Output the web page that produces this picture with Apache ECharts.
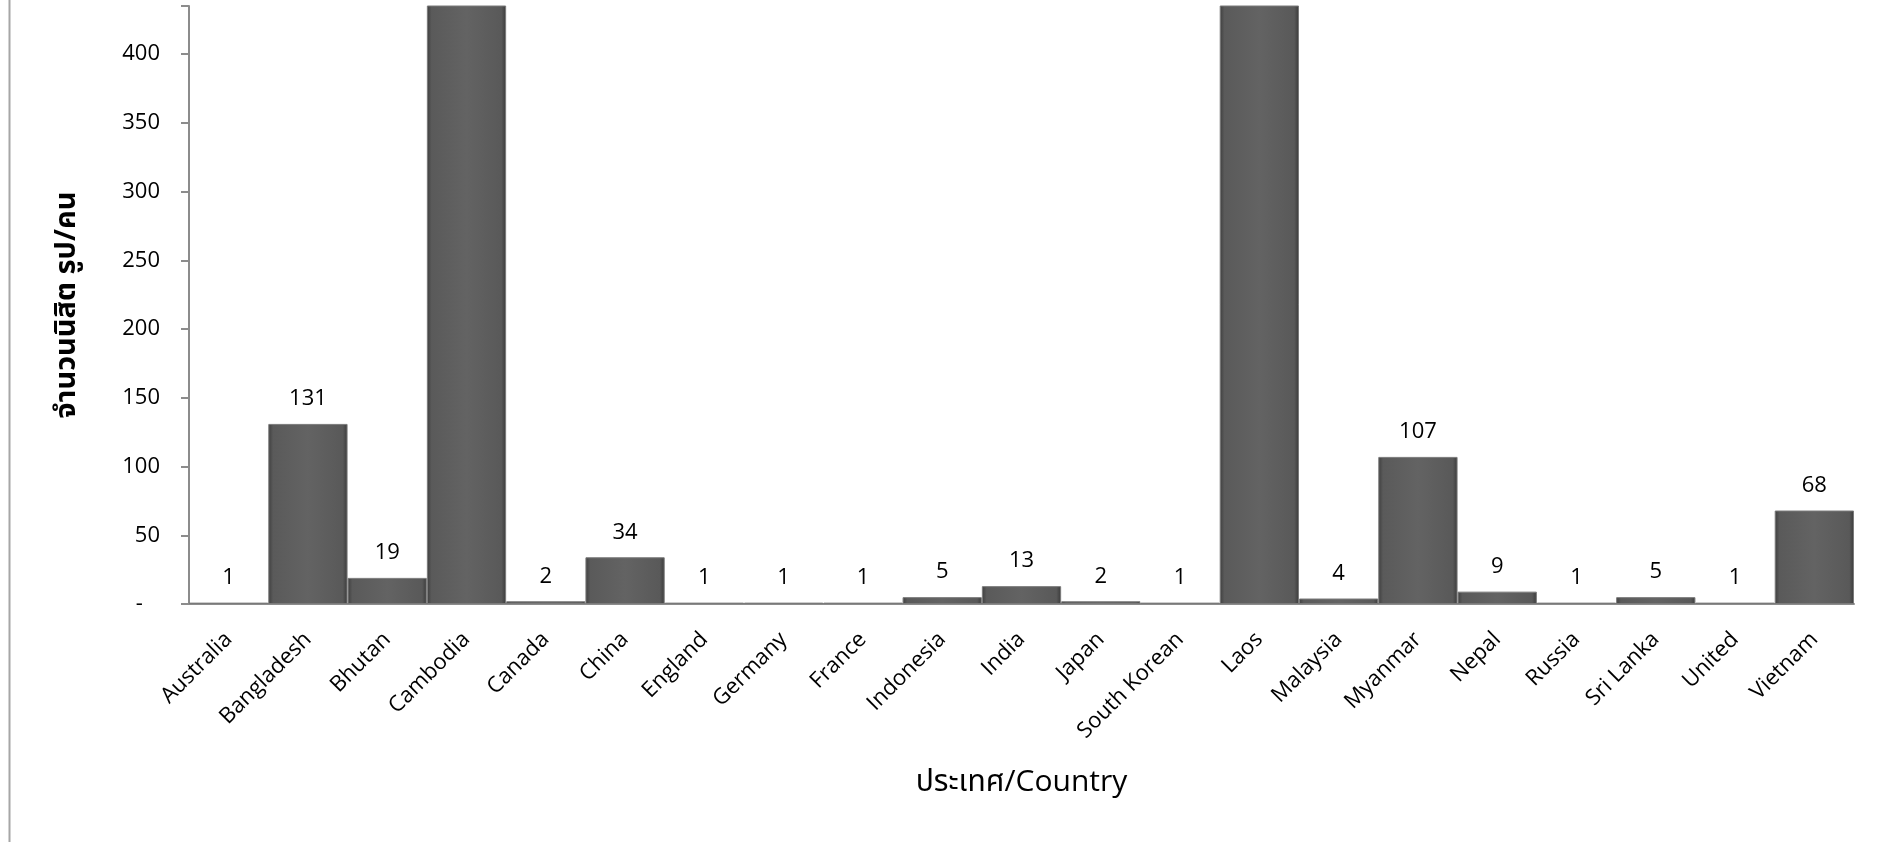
<!DOCTYPE html>
<html>
<head>
<meta charset="utf-8">
<script src="https://cdn.jsdelivr.net/npm/echarts@6/dist/echarts.min.js"></script>
<style>
html,body{margin:0;padding:0;background:#fff;}
#chart{width:1884px;height:844px;}
</style>
</head>
<body>
<div id="chart"></div>
<script>
// Categories (countries)
const categories = ["Australia","Bangladesh","Bhutan","Cambodia","Canada","China","England","Germany","France","Indonesia","India","Japan","South Korean","Laos","Malaysia","Myanmar","Nepal","Russia","Sri Lanka","United","Vietnam"];
// Student counts; Cambodia and Laos run off the top of the chart (values estimated, not readable)
const counts = [1,131,19,520,2,34,1,1,1,5,13,2,1,520,4,107,9,1,5,1,68];
// Y axis settings
const yMax = 435;
const yTicks = [0,50,100,150,200,250,300,350,400];

const font = '"Open Sans","Noto Sans","Noto Sans Thai",sans-serif';
const chart = echarts.init(document.getElementById('chart'));

const barColor = {
  type: 'linear', x: 0, y: 0, x2: 1, y2: 0,
  colorStops: [
    {offset: 0, color: '#3e3e3e'},
    {offset: 0.06, color: '#5a5a5a'},
    {offset: 0.5, color: '#636363'},
    {offset: 0.94, color: '#595959'},
    {offset: 1, color: '#3a3a3a'}
  ]
};

chart.setOption({
  animation: false,
  backgroundColor: '#fff',
  textStyle: {fontFamily: font},
  graphic: [{
    type: 'line',
    shape: {x1: 9.5, y1: 0, x2: 9.5, y2: 842},
    style: {stroke: '#a6a6a6', lineWidth: 2}
  }],
  grid: {left: 189, right: 30, top: 6, bottom: 240, containLabel: false},
  xAxis: {
    type: 'category',
    data: categories,
    axisLine: {lineStyle: {color: '#8c8c8c', width: 2}},
    axisTick: {show: false},
    axisLabel: {rotate: 45, color: '#000', fontSize: 22, margin: 32, interval: 0, fontFamily: font},
    name: 'ประเทศ/Country',
    nameLocation: 'middle',
    nameGap: 163,
    nameTextStyle: {fontSize: 30, color: '#000', fontFamily: font}
  },
  yAxis: {
    type: 'value',
    min: 0,
    max: yMax,
    interval: 50,
    splitLine: {show: false},
    axisLine: {show: true, lineStyle: {color: '#8c8c8c', width: 2}},
    axisTick: {show: true, length: 8, lineStyle: {color: '#8c8c8c', width: 2}},
    axisLabel: {
      color: '#000', fontSize: 22, margin: 29, fontFamily: font,
      formatter: v => (yTicks.indexOf(v) < 0 ? '' : (v === 0 ? '-   ' : String(v)))
    },
    name: 'จำนวนนิสิต รูป/คน',
    nameLocation: 'middle',
    nameRotate: 90,
    nameGap: 108,
    nameTextStyle: {fontSize: 29, fontWeight: 'bold', color: '#000', fontFamily: font}
  },
  series: [{
    type: 'bar',
    data: counts.map(v => ({
      value: v,
      label: {show: v <= yMax}
    })),
    barCategoryGap: '0%',
    itemStyle: {color: barColor, borderColor: '#7a7a7a', borderWidth: 1},
    label: {
      show: true, position: 'top', distance: 14,
      color: '#000', fontSize: 22, fontFamily: font
    }
  }]
});
</script>
</body>
</html>
